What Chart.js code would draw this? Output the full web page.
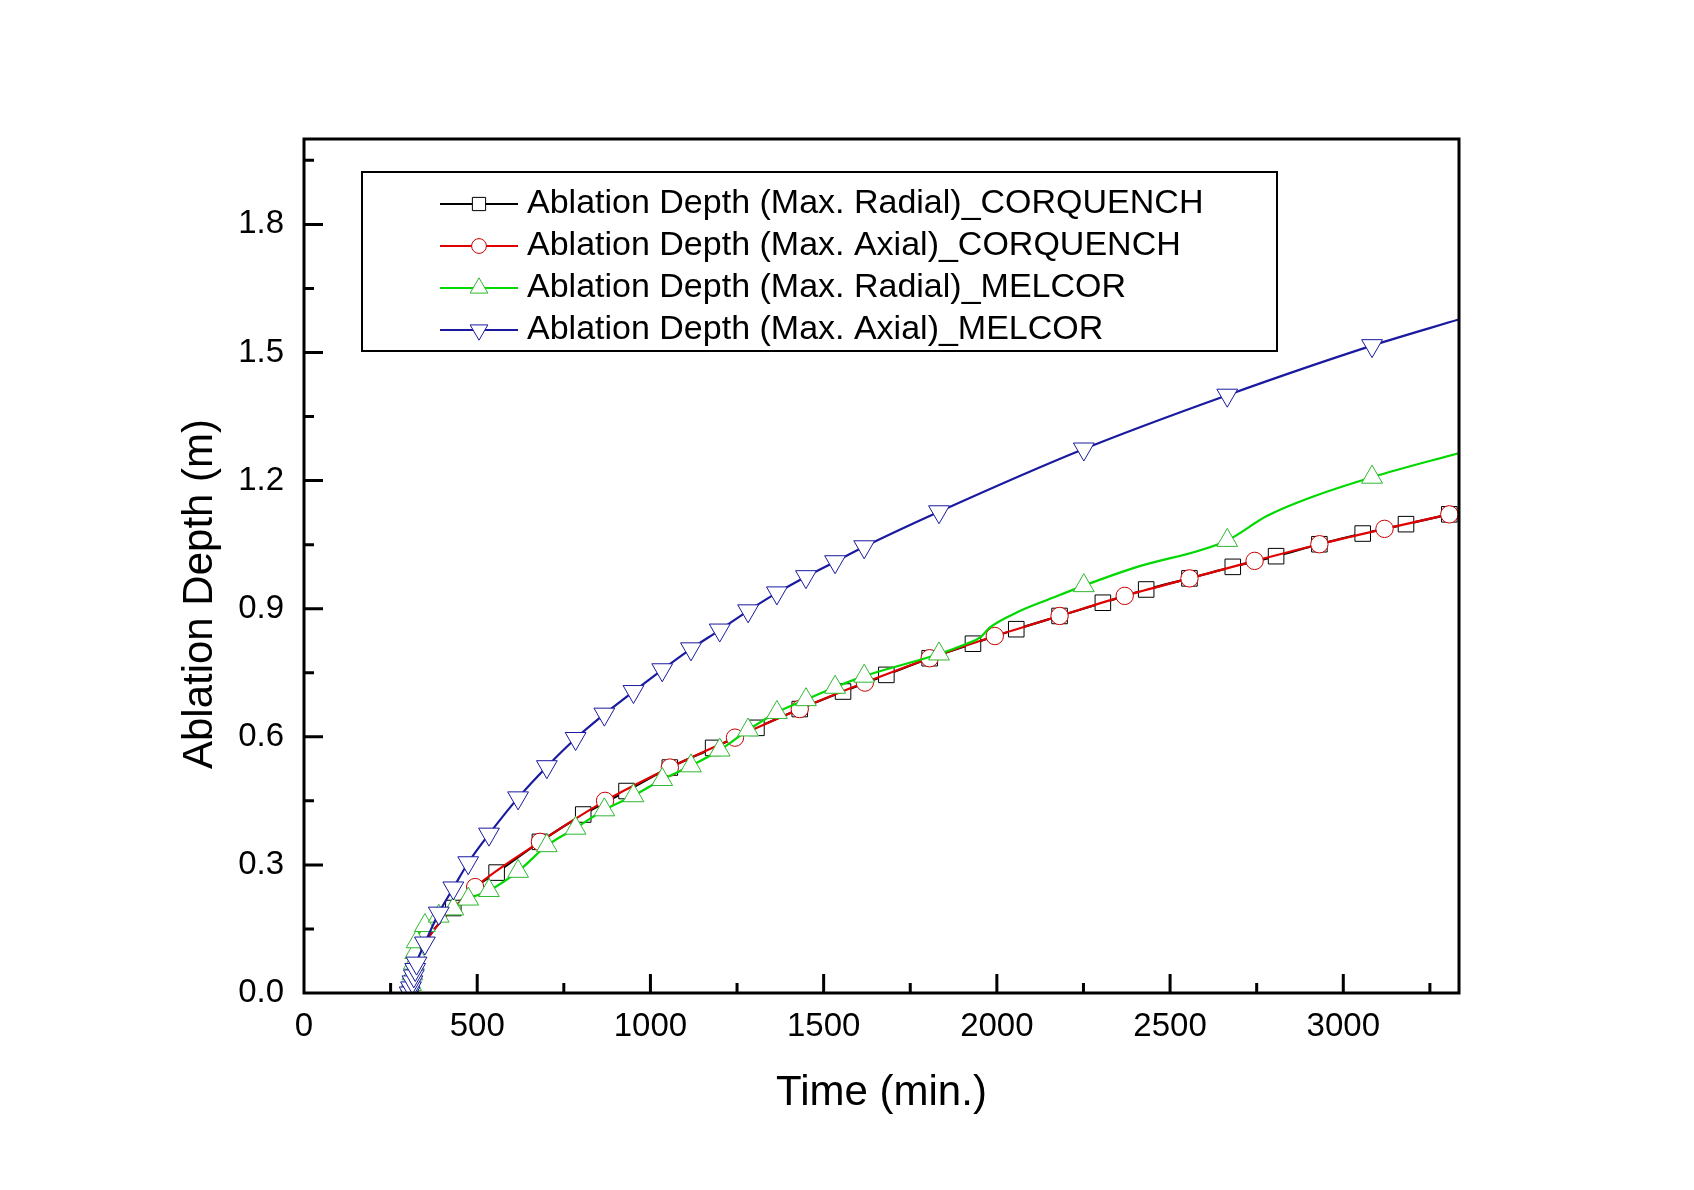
<!DOCTYPE html>
<html>
<head>
<meta charset="utf-8">
<script src="https://cdn.jsdelivr.net/npm/chart.js@4/dist/chart.umd.min.js"></script>
<style>
html,body{margin:0;padding:0;background:#fff;}
#wrap{width:1694px;height:1190px;position:relative;}
canvas{display:block;}
</style>
</head>
<body>
<div id="wrap"><canvas id="c" width="1694" height="1190"></canvas></div>
<script>
// ---------- text ----------
const xTitle = 'Time (min.)';
const yTitle = 'Ablation Depth (m)';
const seriesNames = [
  'Ablation Depth (Max. Radial)_CORQUENCH',
  'Ablation Depth (Max. Axial)_CORQUENCH',
  'Ablation Depth (Max. Radial)_MELCOR',
  'Ablation Depth (Max. Axial)_MELCOR'
];
// ---------- axes ----------
const xMin = 0, xMax = 3334, xMinorStep = 250, xMajorStep = 500;
const yMin = 0, yMax = 2.0, yMinorStep = 0.15, yMajorStep = 0.3;

// ---------- CORQUENCH, max radial (squares) ----------
const radialCqT = [306, 431, 556, 681, 806, 931, 1056, 1181, 1306, 1431, 1556, 1681, 1806, 1931, 2056, 2181, 2306, 2431, 2556, 2681, 2806, 2931, 3056, 3181, 3306];
const radialCqD = [0, 0.199, 0.282, 0.354, 0.418, 0.473, 0.528, 0.574, 0.621, 0.665, 0.706, 0.745, 0.784, 0.818, 0.852, 0.883, 0.914, 0.945, 0.971, 0.998, 1.023, 1.051, 1.076, 1.098, 1.121];
const radialCqLineT = [320, 345, 380, 494];
const radialCqLineD = [0.067, 0.111, 0.153, 0.248];

// ---------- CORQUENCH, max axial (circles) ----------
const axialCqT = [306, 494, 681, 869, 1056, 1244, 1431, 1619, 1806, 1994, 2181, 2369, 2556, 2744, 2931, 3119, 3306];
const axialCqD = [0, 0.248, 0.354, 0.450, 0.528, 0.598, 0.665, 0.727, 0.784, 0.836, 0.883, 0.930, 0.971, 1.012, 1.051, 1.087, 1.121];
const axialCqLineT = [320, 345, 380, 431, 460];
const axialCqLineD = [0.067, 0.111, 0.153, 0.199, 0.221];

// ---------- MELCOR (marker times shared by both MELCOR series) ----------
const melcorT = [305, 309, 313, 317, 321, 325, 349, 389, 431, 474, 534, 618, 701, 784, 867, 951, 1034, 1117, 1200, 1282, 1365, 1449, 1533, 1617, 1833, 2251, 2665, 3083];
const radialMelD = [0, 0.02, 0.045, 0.07, 0.095, 0.12, 0.158, 0.18, 0.197, 0.22, 0.24, 0.285, 0.345, 0.386, 0.429, 0.462, 0.50, 0.532, 0.569, 0.616, 0.657, 0.687, 0.716, 0.742, 0.794, 0.954, 1.060, 1.208];
const radialMelLineT = [1913, 1951, 1980, 2057, 2163, 2394, 2779, 2904, 3336];
const radialMelLineD = [0.818, 0.832, 0.856, 0.891, 0.926, 0.995, 1.117, 1.160, 1.265];
const axialMelD = [0, 0.012, 0.026, 0.04, 0.055, 0.07, 0.117, 0.187, 0.246, 0.305, 0.372, 0.457, 0.53, 0.596, 0.653, 0.706, 0.757, 0.806, 0.85, 0.895, 0.937, 0.975, 1.01, 1.045, 1.127, 1.274, 1.40, 1.516];
const axialMelLineT = [3336];
const axialMelLineD = [1.578];

// ---------- helpers ----------
function buildPoints(mt, md, lt, ld) {
  const a = mt.map((t, i) => ({x: t, y: md[i], mk: true}));
  lt.forEach((t, i) => a.push({x: t, y: ld[i], mk: false}));
  return a.sort((p, q) => p.x - q.x);
}
const FONT = "'Liberation Sans', Arial, Helvetica, sans-serif";
const MARKER_R = {rect: 11, circle: 8.7, triangle: 12};

function drawMarker(ctx, style, rotDeg, x, y, r, stroke) {
  ctx.save();
  ctx.beginPath();
  ctx.lineWidth = 1;
  ctx.strokeStyle = stroke;
  ctx.fillStyle = '#ffffff';
  if (style === 'rect') {
    const s = r * Math.SQRT1_2;
    ctx.rect(x - s, y - s, 2 * s, 2 * s);
  } else if (style === 'circle') {
    ctx.arc(x, y, r, 0, Math.PI * 2);
  } else {
    let a = rotDeg * Math.PI / 180;
    for (let k = 0; k < 3; k++) {
      const px = x + Math.sin(a) * r, py = y - Math.cos(a) * r;
      if (k) ctx.lineTo(px, py); else ctx.moveTo(px, py);
      a += 2 * Math.PI / 3;
    }
    ctx.closePath();
  }
  ctx.fill();
  ctx.stroke();
  ctx.restore();
}

function makeDataset(label, data, color, markerColor, style, rot, order) {
  const r = MARKER_R[style];
  return {
    label, data, order,
    borderColor: color,
    borderWidth: 2.2,
    pointStyle: style,
    pointRotation: rot,
    pointBorderColor: markerColor,
    pointBackgroundColor: '#ffffff',
    pointBorderWidth: 1,
    pointRadius: c => (c.raw && c.raw.mk) ? r : 0,
    pointHoverRadius: c => (c.raw && c.raw.mk) ? r : 0,
    cubicInterpolationMode: 'monotone',
    fill: false,
    clip: 0
  };
}

const datasets = [
  makeDataset(seriesNames[0], buildPoints(radialCqT, radialCqD, radialCqLineT, radialCqLineD), '#000000', '#000000', 'rect', 0, 3),
  makeDataset(seriesNames[1], buildPoints(axialCqT, axialCqD, axialCqLineT, axialCqLineD), '#e00000', '#c80000', 'circle', 0, 2),
  makeDataset(seriesNames[2], buildPoints(melcorT, radialMelD, radialMelLineT, radialMelLineD), '#00d800', '#30b830', 'triangle', 0, 1),
  makeDataset(seriesNames[3], buildPoints(melcorT, axialMelD, axialMelLineT, axialMelLineD), '#1a1aa0', '#1a1aa0', 'triangle', 180, 0)
];

// frame + inward ticks
const framePlugin = {
  id: 'frameTicks',
  afterDatasetsDraw(chart) {
    const {ctx, chartArea: a, scales: {x, y}} = chart;
    ctx.save();
    ctx.strokeStyle = '#000';
    ctx.lineWidth = 3;
    ctx.lineCap = 'butt';
    ctx.beginPath();
    x.ticks.forEach(t => {
      const v = t.value;
      if (v <= xMin || v >= xMax) return;
      const major = Math.abs(v / xMajorStep - Math.round(v / xMajorStep)) < 1e-6;
      const px = x.getPixelForValue(v);
      ctx.moveTo(px, a.bottom);
      ctx.lineTo(px, a.bottom - (major ? 19 : 10));
    });
    y.ticks.forEach(t => {
      const v = t.value;
      if (v <= yMin || v >= yMax) return;
      const major = Math.abs(v / yMajorStep - Math.round(v / yMajorStep)) < 1e-6;
      const py = y.getPixelForValue(v);
      ctx.moveTo(a.left, py);
      ctx.lineTo(a.left + (major ? 19 : 10), py);
    });
    ctx.stroke();
    ctx.strokeRect(a.left, a.top, a.right - a.left, a.bottom - a.top);
    ctx.restore();
  }
};

// axis titles
const titlesPlugin = {
  id: 'axisTitles',
  afterDraw(chart, args, o) {
    const {ctx, chartArea: a} = chart;
    ctx.save();
    ctx.fillStyle = '#000';
    ctx.font = '42px ' + FONT;
    ctx.textAlign = 'center';
    ctx.textBaseline = 'alphabetic';
    ctx.fillText(xTitle, (a.left + a.right) / 2, a.bottom + o.xTitleOffset);
    ctx.translate(a.left - o.yTitleOffset, (a.top + a.bottom) / 2 + o.yTitleShift);
    ctx.rotate(-Math.PI / 2);
    ctx.fillText(yTitle, 0, 0);
    ctx.restore();
  }
};

// boxed legend with line + marker samples
const legendPlugin = {
  id: 'boxLegend',
  afterDraw(chart, args, o) {
    const ctx = chart.ctx;
    ctx.save();
    ctx.fillStyle = '#fff';
    ctx.fillRect(o.left, o.top, o.width, o.height);
    ctx.lineWidth = 2;
    ctx.strokeStyle = '#000';
    ctx.strokeRect(o.left, o.top, o.width, o.height);
    ctx.font = o.fontSize + 'px ' + FONT;
    ctx.textBaseline = 'middle';
    ctx.textAlign = 'left';
    chart.data.datasets.forEach((ds, i) => {
      const yy = o.firstRow + i * o.rowGap;
      ctx.strokeStyle = ds.borderColor;
      ctx.lineWidth = 2;
      ctx.beginPath();
      ctx.moveTo(o.lineX0, yy);
      ctx.lineTo(o.lineX1, yy);
      ctx.stroke();
      drawMarker(ctx, ds.pointStyle, ds.pointRotation, (o.lineX0 + o.lineX1) / 2, yy, MARKER_R[ds.pointStyle] * 0.85, ds.pointBorderColor);
      ctx.fillStyle = '#000';
      ctx.fillText(ds.label, o.textX, yy);
    });
    ctx.restore();
  }
};

new Chart(document.getElementById('c'), {
  type: 'line',
  data: {datasets},
  options: {
    responsive: false,
    animation: false,
    devicePixelRatio: 1,
    layout: {padding: {top: 139, right: 235, left: 0, bottom: 0}},
    events: [],
    scales: {
      x: {
        type: 'linear',
        min: xMin, max: xMax,
        afterFit: s => { s.height = 197; },
        grid: {display: false, drawTicks: false},
        border: {display: false},
        ticks: {
          stepSize: xMinorStep,
          includeBounds: false,
          autoSkip: false,
          maxRotation: 0,
          padding: 14,
          color: '#000',
          font: {family: FONT, size: 33},
          callback: v => (Math.abs(v / xMajorStep - Math.round(v / xMajorStep)) < 1e-6) ? String(Math.round(v)) : ''
        }
      },
      y: {
        type: 'linear',
        min: yMin, max: yMax,
        afterFit: s => { s.width = 304; },
        grid: {display: false, drawTicks: false},
        border: {display: false},
        ticks: {
          stepSize: yMinorStep,
          includeBounds: false,
          autoSkip: false,
          padding: 20,
          color: '#000',
          font: {family: FONT, size: 33},
          callback: v => (Math.abs(v / yMajorStep - Math.round(v / yMajorStep)) < 1e-6) ? v.toFixed(1) : ''
        }
      }
    },
    plugins: {
      legend: {display: false},
      tooltip: {enabled: false},
      axisTitles: {xTitleOffset: 112, yTitleOffset: 92, yTitleShift: 28},
      boxLegend: {left: 362, top: 172, width: 915, height: 179, firstRow: 204, rowGap: 42,
                  lineX0: 440, lineX1: 518, textX: 527, fontSize: 34}
    }
  },
  plugins: [framePlugin, titlesPlugin, legendPlugin]
});
</script>
</body>
</html>
